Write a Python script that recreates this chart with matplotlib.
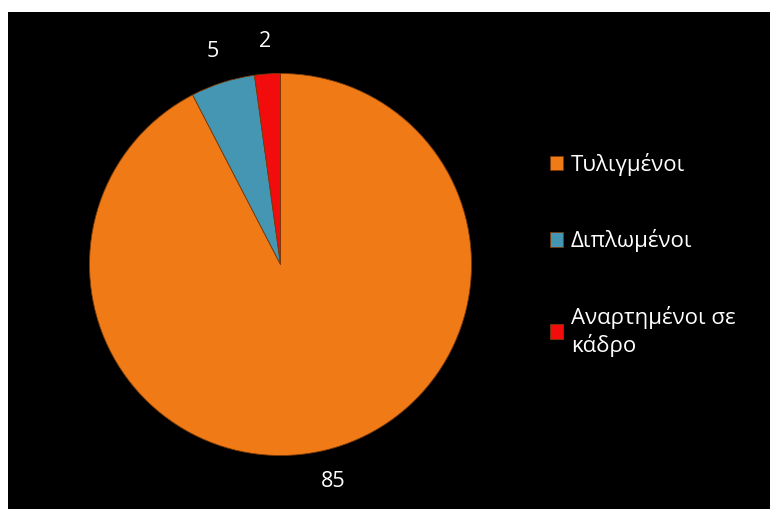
import matplotlib
matplotlib.use('Agg')
import matplotlib.pyplot as plt

categories = ['Τυλιγμένοι', 'Διπλωμένοι', 'Αναρτημένοι σε\nκάδρο']
values = [85, 5, 2]
colors = ['#F07A16', '#4596B3', '#F20C0C']

plt.rcParams['font.family'] = ['Open Sans', 'DejaVu Sans']

W, H = 772, 509
fig = plt.figure(figsize=(W / 100, H / 100), dpi=100, facecolor='white')

# black panel
bg = fig.add_axes([8 / W, 0, 762 / W, 497 / H])
bg.set_facecolor('black')
bg.set_xticks([])
bg.set_yticks([])
for s in bg.spines.values():
    s.set_visible(False)

# pie axes (square, centre ~ (280, 265) px from top-left, radius ~191 px)
r = 191
cx, cy = 280.5, H - 264.5
ax = fig.add_axes([(cx - r) / W, (cy - r) / H, 2 * r / W, 2 * r / H])
ax.set_facecolor('none')
wedges, texts = ax.pie(values, labels=[str(v) for v in values], colors=colors,
                       startangle=90, counterclock=False, radius=1.0,
                       labeldistance=1.17,
                       wedgeprops=dict(edgecolor='#7a3a08', linewidth=0.6),
                       textprops=dict(color='white', fontsize=15.5))
for t in texts:
    t.set_ha('center')
    t.set_va('center')
ax.set_xlim(-1, 1)
ax.set_ylim(-1, 1)
ax.set_aspect('equal')
ax.axis('off')

leg = fig.legend(wedges, categories, loc='upper left',
                 bbox_to_anchor=(530 / W, 1 - 133 / H),
                 frameon=False, fontsize=16, labelcolor='white',
                 handlelength=0.6, handleheight=0.6, handletextpad=0.35,
                 labelspacing=2.4)
for t in leg.get_texts():
    t.set_linespacing(1.3)

fig.savefig('out.png', dpi=100, facecolor='white')
